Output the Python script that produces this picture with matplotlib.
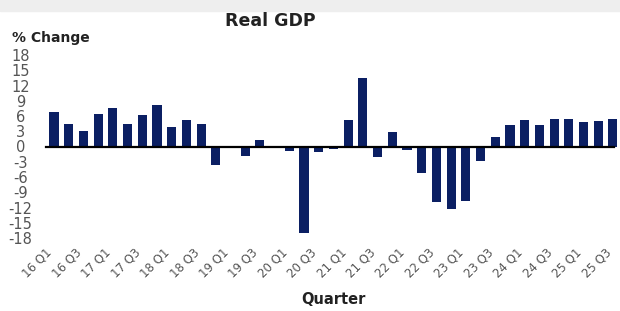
import numpy as np
import matplotlib
matplotlib.use("Agg")
import matplotlib.pyplot as plt
import matplotlib.transforms as mtrans
from matplotlib.patches import Rectangle

plt.rcParams["axes.unicode_minus"] = False

# quarterly real GDP, % change (16 Q1 .. 25 Q3)
years = list(range(16, 26))
quarters = [f"{y} Q{q}" for y in years for q in range(1, 5)][:39]
gdp = [6.7, 4.5, 3.0, 6.3, 7.5, 4.5, 6.1, 8.1, 3.8, 5.3,
       4.5, -3.6, 0.0, -1.8, 1.2, 0.0, -0.8, -17.0, -1.0, -0.4,
       5.3, 13.4, -2.0, 2.8, -0.6, -5.2, -11.0, -12.3, -10.7, -2.9,
       1.9, 4.3, 5.2, 4.2, 5.5, 5.5, 4.8, 5.0, 5.5]
yticks = list(range(-18, 19, 3))

navy = "#0b1f63"
grey = "#555555"

fig = plt.figure(figsize=(6.2, 3.11), dpi=100)
fig.patches.append(Rectangle((0, 0.965), 1, 0.035, transform=fig.transFigure,
                             color="#eeeeee", zorder=0))

ax = fig.add_axes([40/620, 1-238/311, 580/620, 183/311])
x = np.arange(len(gdp))
ax.bar(x, gdp, width=0.62, color=navy, zorder=2)
ax.axhline(0, color="black", lw=1.6, xmin=0.01, xmax=0.99, zorder=3)

ax.set_xlim(-0.95, 38.48)
ax.set_ylim(-18, 18)
ax.set_yticks(yticks)
ax.set_yticklabels([str(v) for v in yticks], color=grey, fontsize=10.5)
ax.set_xticks(x[::2])
ax.set_xticklabels(quarters[::2], rotation=45, ha="right", va="center",
                   rotation_mode="anchor", color=grey, fontsize=8.5)
ax.tick_params(length=0)
ax.tick_params(axis="x", pad=9)
ax.tick_params(axis="y", pad=14)
shift = mtrans.ScaledTranslation(-4/100, 0, fig.dpi_scale_trans)
for lbl in ax.get_xticklabels():
    lbl.set_transform(lbl.get_transform() + shift)
for lbl in ax.get_yticklabels():
    lbl.set_horizontalalignment("center")
for s in ax.spines.values():
    s.set_visible(False)

fig.text(270/620, 1-21/311, "Real GDP", ha="center", va="center",
         fontsize=12.5, fontweight="bold", color="#222222")
fig.text(12/620, 1-38/311, "% Change", ha="left", va="center",
         fontsize=10, fontweight="bold", color="#222222")
fig.text(333/620, 1-300/311, "Quarter", ha="center", va="center",
         fontsize=10.5, fontweight="bold", color="#222222")

fig.savefig("out.png", dpi=100)
